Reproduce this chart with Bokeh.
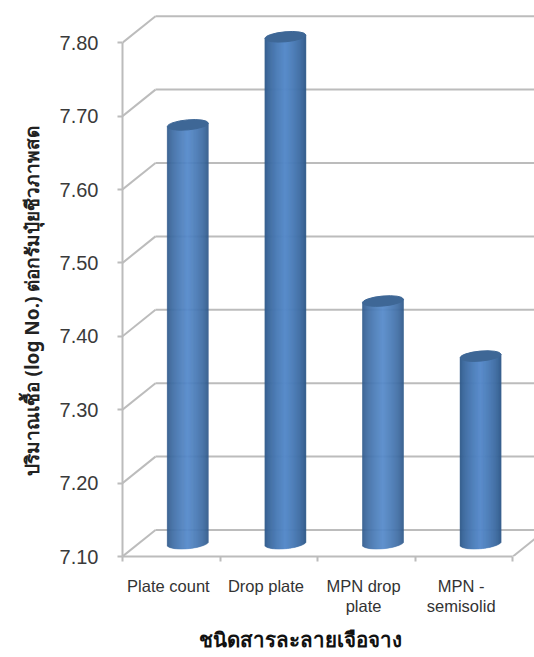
from math import sqrt

from bokeh.embed import file_html
from bokeh.models import ColumnDataSource, FixedTicker, Range1d, Title
from bokeh.plotting import figure
from bokeh.resources import INLINE

# Chart data
categories = ["Plate count", "Drop plate", "MPN drop\nplate", "MPN -\nsemisolid"]
counts = [7.67, 7.79, 7.43, 7.355]
y_ticks = [7.10, 7.20, 7.30, 7.40, 7.50, 7.60, 7.70, 7.80]
y_title = "ปริมาณเชื้อ (log No.) ต่อกรัมปุ๋ยชีวภาพสด"
x_title = "ชนิดสารละลายเจือจาง"

# Pixel scale of the plotting frame and the oblique depth of the chart box
PX_PER_CATEGORY = 97.6
PX_PER_UNIT = 734.0
DEPTH_X = 33 / PX_PER_CATEGORY
DEPTH_Y = 26.5 / PX_PER_UNIT
FRAME_LEFT, FRAME_BOTTOM = 122, 101
FRAME_W, FRAME_H = 534 - FRAME_LEFT, 657 - FRAME_BOTTOM

p = figure(
    width=534, height=657, output_backend="svg", toolbar_location=None,
    x_range=Range1d(0, FRAME_W / PX_PER_CATEGORY),
    y_range=Range1d(y_ticks[0], y_ticks[0] + FRAME_H / PX_PER_UNIT),
    min_border_left=FRAME_LEFT, min_border_bottom=FRAME_BOTTOM,
    min_border_top=0, min_border_right=0,
)
p.outline_line_color = None
p.grid.visible = False
p.background_fill_color = "white"
p.border_fill_color = "white"

GRID = "#bcbcbc"
n_cat = len(categories)

# Back wall rules, floor edges and the slanted side-wall rules
p.segment(DEPTH_X, [v + DEPTH_Y for v in y_ticks], FRAME_W / PX_PER_CATEGORY,
          [v + DEPTH_Y for v in y_ticks], line_color=GRID, line_width=2)
p.segment(0, y_ticks, DEPTH_X, [v + DEPTH_Y for v in y_ticks], line_color=GRID, line_width=2)
p.segment(n_cat, y_ticks[0], n_cat + DEPTH_X, y_ticks[0] + DEPTH_Y, line_color=GRID, line_width=2)

# Cylinders: a stack of thin vertical strips gives the round shading
BAR_R = 20.5 / PX_PER_CATEGORY
ELL_RY = 5.5 / PX_PER_UNIT
TILT = 1.8 / PX_PER_UNIT
N = 41
EDGE = (46, 86, 132)
MID = (86, 138, 202)


def shade(u):
    t = (1 - abs(u)) ** 0.6
    return "#%02x%02x%02x" % tuple(round(a + (b - a) * t) for a, b in zip(EDGE, MID))


for i, v in enumerate(counts):
    cx = i + 0.5 + DEPTH_X / 2
    base = y_ticks[0] + DEPTH_Y / 2
    cap = v + DEPTH_Y / 2
    left, right, bottom, top, color = [], [], [], [], []
    for k in range(N):
        u0 = -1 + 2 * k / N
        u1 = -1 + 2 * (k + 1) / N
        u = (u0 + u1) / 2
        left.append(cx + u0 * BAR_R)
        right.append(cx + u1 * BAR_R)
        bottom.append(base - ELL_RY * sqrt(1 - u * u) + TILT * u)
        top.append(cap + TILT * u)
        color.append(shade(u))
    src = ColumnDataSource(dict(left=left, right=right, bottom=bottom, top=top, color=color))
    p.quad(left="left", right="right", bottom="bottom", top="top", fill_color="color",
           line_color="color", line_width=0.5, source=src)
    p.ellipse(x=cx, y=cap, width=41, height=10, angle=0.09, width_units="screen",
              height_units="screen", fill_color="#3e6796", line_color="#3e6796")

# Axes
yax = p.yaxis[0]
yax.ticker = FixedTicker(ticks=y_ticks)
yax.formatter.use_scientific = False
yax.major_label_overrides = {v: f"{v:.2f}" for v in y_ticks}
yax.bounds = (y_ticks[0], y_ticks[-1])
yax.axis_line_color = GRID
yax.axis_line_width = 2
yax.major_tick_line_color = GRID
yax.major_tick_line_width = 2
yax.major_tick_out = 5
yax.major_tick_in = 0
yax.minor_tick_line_color = None
yax.major_label_standoff = 19
yax.major_label_text_font = "Liberation Sans"
yax.major_label_text_font_size = "20px"
yax.major_label_text_color = "#3a3a3a"

label_at = [i + 0.47 for i in range(n_cat)]
xax = p.xaxis[0]
xax.ticker = FixedTicker(ticks=label_at, minor_ticks=list(range(n_cat + 1)))
xax.major_label_overrides = dict(zip(label_at, categories))
xax.bounds = (0, n_cat)
xax.axis_line_color = GRID
xax.axis_line_width = 2
xax.major_tick_line_color = None
xax.minor_tick_line_color = GRID
xax.minor_tick_line_width = 2
xax.minor_tick_out = 5
xax.minor_tick_in = 0
xax.major_label_standoff = 14
xax.major_label_orientation = "horizontal"
xax.major_label_text_font = "Liberation Sans"
xax.major_label_text_font_size = "16.5px"
xax.major_label_text_color = "#333333"
xax.major_label_text_line_height = 1.12

# Axis titles, anchored along the frame edge
p.add_layout(Title(text=y_title, align="left", offset=81, standoff=23,
                   text_font="Noto Sans", text_font_size="19px", text_font_style="bold",
                   text_color="#222222"), "left")
p.add_layout(Title(text=x_title, align="left", offset=76, standoff=10, text_line_height=1.0,
                   text_font="Noto Sans", text_font_size="20.5px", text_font_style="bold",
                   text_color="#111111"), "below")

open("out.html", "w").write(file_html(p, INLINE))
